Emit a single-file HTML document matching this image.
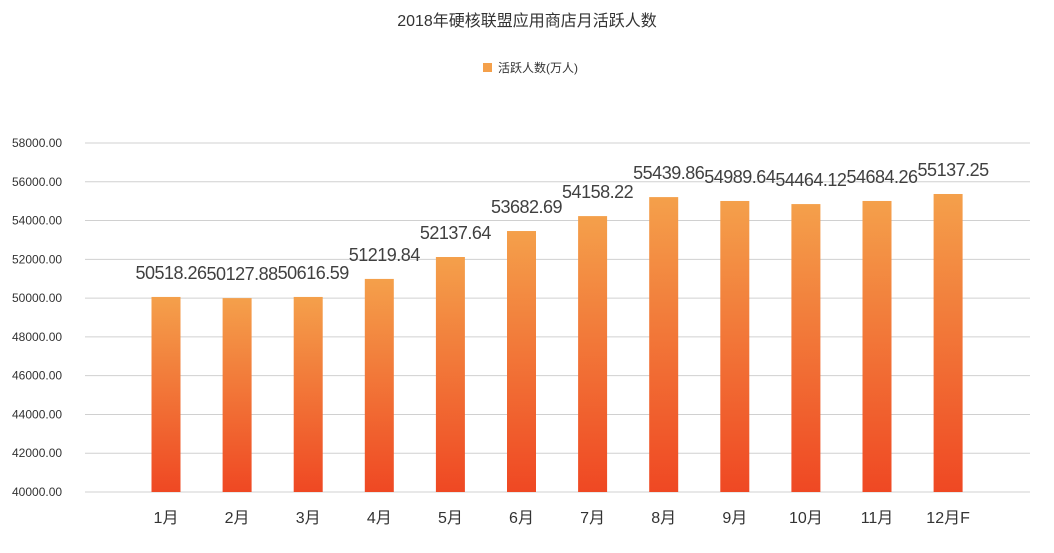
<!DOCTYPE html>
<html><head><meta charset="utf-8"><style>
body{margin:0;background:#fff;font-family:"Liberation Sans","Noto Sans CJK SC",sans-serif;}
</style></head><body>
<svg width="1054" height="548" xmlns="http://www.w3.org/2000/svg">
<defs><linearGradient id="g" x1="0" y1="0" x2="0" y2="1"><stop offset="0" stop-color="#f4a04b"/><stop offset="1" stop-color="#ef4823"/></linearGradient></defs>
<text x="527" y="26" text-anchor="middle" font-size="16" fill="#333">2018年硬核联盟应用商店月活跃人数</text>
<rect x="483" y="63" width="9" height="9" fill="#f4a04b"/>
<text x="498" y="72" font-size="12" fill="#333">活跃人数(万人)</text>
<g id="grid"></g><g id="bars"></g>
</svg>
<script>
const categories=["1月","2月","3月","4月","5月","6月","7月","8月","9月","10月","11月","12月F"];
const values=[50060,50000,50060,50990,52120,53460,54230,55210,55010,54850,55010,55370];
const printed=["50518.26","50127.88","50616.59","51219.84","52137.64","53682.69","54158.22","55439.86","54989.64","54464.12","54684.26","55137.25"];
const yTicks=[40000,42000,44000,46000,48000,50000,52000,54000,56000,58000];
const NS="http://www.w3.org/2000/svg";
const y=v=>492-(v-40000)/18000*349;
const x=i=>166+i*71.1;
function mk(t,a,p,txt){const e=document.createElementNS(NS,t);for(const k in a)e.setAttribute(k,a[k]);if(txt!=null)e.textContent=txt;p.appendChild(e);return e;}
const grid=document.getElementById('grid'),bars=document.getElementById('bars');
yTicks.forEach(v=>{
 const l=mk('line',{x1:85,x2:1030,y1:y(v),y2:y(v),stroke:'#d0d0d0','stroke-width':1},grid);
 
 
 const t=mk('text',{x:12,y:y(v)+4,'font-size':12,fill:'#333'},grid,v.toFixed(2));
 
 
});
categories.forEach((c,i)=>{
 const r=mk('rect',{x:x(i)-14.5,y:y(values[i]),width:29,height:492-y(values[i]),fill:'url(#g)'},bars);
 
 
 const t=mk('text',{x:x(i)+5,y:y(values[i])-18,'font-size':18,fill:'#404040','text-anchor':'middle','letter-spacing':'-0.5'},bars,printed[i]);
 
 
 const xl=mk('text',{x:x(i),y:523,'font-size':16,fill:'#333','text-anchor':'middle'},bars,c);
 
 
});
</script>
</body></html>
